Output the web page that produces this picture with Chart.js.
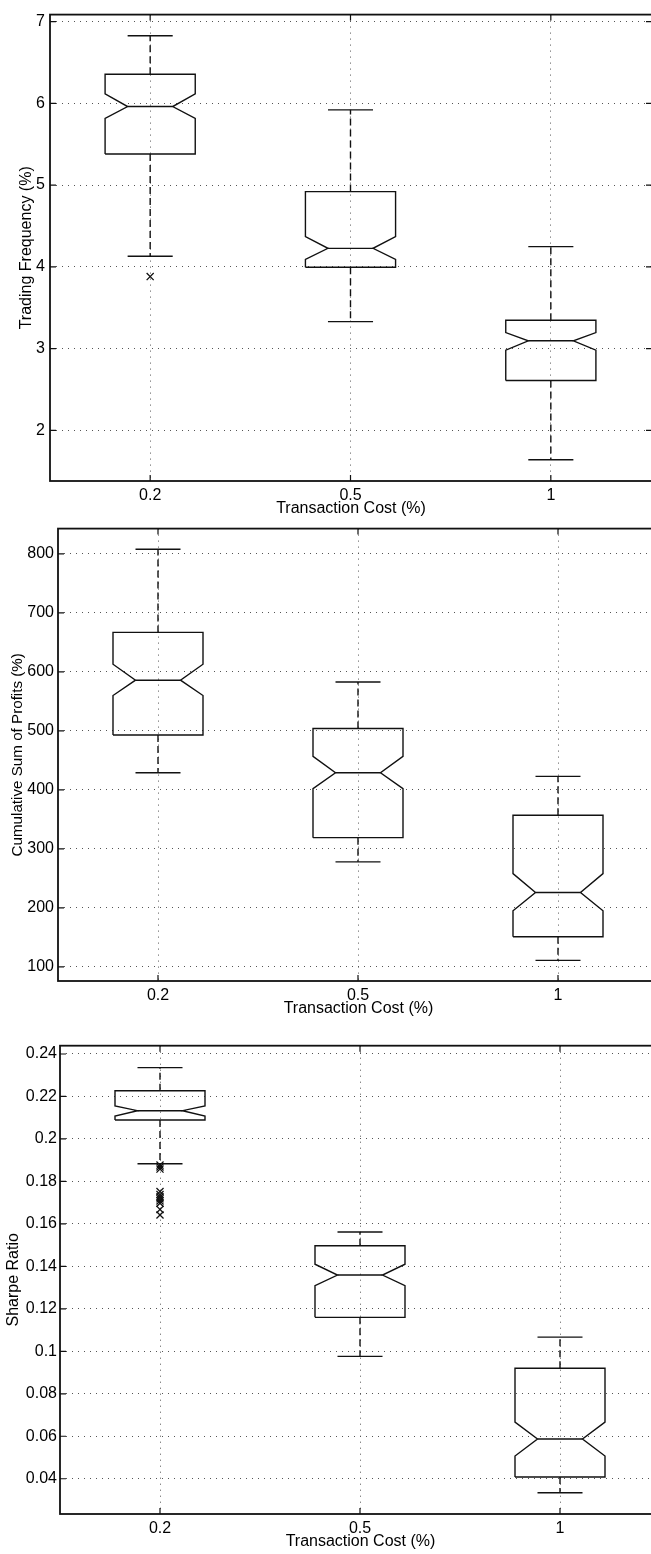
<!DOCTYPE html>
<html>
<head>
<meta charset="utf-8">
<title>Transaction cost boxplots</title>
<script src="https://cdn.jsdelivr.net/npm/chart.js@4.4.1/dist/chart.umd.min.js"></script>
<style>
    html, body { margin: 0; padding: 0; background: #fff; }
    body { width: 651px; height: 1554px; overflow: hidden; position: relative; }
    canvas { position: absolute; left: 0; }
</style>
</head>
<body>
<canvas id="freqChart"></canvas>
<canvas id="profitChart"></canvas>
<canvas id="sharpeChart"></canvas>
<script>
// Categories
const costLabels = ['0.2', '0.5', '1'];

// Trading frequency (%)
const freqWhiskerLow = [4.13, 3.33, 1.64];
const freqQ1 = [5.38, 3.995, 2.61];
const freqNotchLow = [5.815, 4.09, 2.98];
const freqMedian = [5.96, 4.226, 3.095];
const freqNotchHigh = [6.115, 4.37, 3.196];
const freqQ3 = [6.355, 4.92, 3.347];
const freqWhiskerHigh = [6.826, 5.92, 4.247];
const freqOutliers = [[3.88], [], []];
const freqTicks = [2, 3, 4, 5, 6, 7];

// Cumulative sum of profits (%)
const profitWhiskerLow = [429, 278, 111];
const profitQ1 = [493, 319, 151];
const profitNotchLow = [560, 402, 195];
const profitMedian = [586, 429, 226];
const profitNotchHigh = [613, 457, 258];
const profitQ3 = [667, 504, 357];
const profitWhiskerHigh = [808, 583, 423];
const profitOutliers = [[], [], []];
const profitTicks = [100, 200, 300, 400, 500, 600, 700, 800];

// Sharpe ratio
const sharpeWhiskerLow = [0.1883, 0.0976, 0.0334];
const sharpeQ1 = [0.2089, 0.116, 0.0408];
const sharpeNotchLow = [0.2108, 0.1309, 0.0507];
const sharpeMedian = [0.2133, 0.1359, 0.0587];
const sharpeNotchHigh = [0.2155, 0.141, 0.0667];
const sharpeQ3 = [0.2227, 0.1497, 0.092];
const sharpeWhiskerHigh = [0.2336, 0.1562, 0.1067];
const sharpeOutliers = [[0.1877, 0.1868, 0.1858, 0.1752, 0.1738, 0.1728, 0.1718, 0.1708, 0.1697, 0.1668, 0.1642], [], []];
const sharpeTicks = [0.04, 0.06, 0.08, 0.1, 0.12, 0.14, 0.16, 0.18, 0.2, 0.22, 0.24];

const BOX_HALF = 0.225;
const INK = '#111';
const CANVAS_W = 680;
const FONT_PX = 16;
const LINE_H = FONT_PX * 1.2;
const X_TITLE_GAP = 28; // plot bottom to middle of the x title

Chart.defaults.font.family = '"Liberation Sans", Arial, sans-serif';
Chart.defaults.font.size = FONT_PX;
Chart.defaults.color = '#000';

// frame round the plot area with inward tick marks (matlab style)
const framePlugin = {
    id: 'frame',
    afterDatasetsDraw(chart) {
        const { ctx, chartArea: a, scales } = chart;
        ctx.save();
        ctx.strokeStyle = INK;
        ctx.lineWidth = 1.2;
        ctx.beginPath();
        scales.y.ticks.forEach(t => {
            const py = scales.y.getPixelForValue(t.value);
            ctx.moveTo(a.left, py); ctx.lineTo(a.left + 6, py);
            ctx.moveTo(a.right, py); ctx.lineTo(a.right - 6, py);
        });
        scales.x.ticks.forEach(t => {
            const px = scales.x.getPixelForValue(t.value);
            ctx.moveTo(px, a.bottom); ctx.lineTo(px, a.bottom - 6);
            ctx.moveTo(px, a.top); ctx.lineTo(px, a.top + 6);
        });
        ctx.stroke();
        ctx.lineWidth = 1.8;
        ctx.strokeRect(a.left, a.top, a.right - a.left, a.bottom - a.top);
        ctx.restore();
    }
};

function lineSet(data, dash) {
    return {
        data,
        showLine: true,
        borderColor: INK,
        borderWidth: 1.4,
        borderDash: dash || [],
        pointRadius: 0,
        pointHoverRadius: 0,
        fill: false,
        tension: 0
    };
}

function boxDatasets(s) {
    const sets = [];
    const w = BOX_HALF, n = BOX_HALF / 2;
    s.median.forEach((med, i) => {
        const c = i + 1;
        sets.push(lineSet([
            { x: c - w, y: s.q1[i] }, { x: c - w, y: s.notchLow[i] }, { x: c - n, y: med },
            { x: c - w, y: s.notchHigh[i] }, { x: c - w, y: s.q3[i] },
            { x: c + w, y: s.q3[i] }, { x: c + w, y: s.notchHigh[i] }, { x: c + n, y: med },
            { x: c + w, y: s.notchLow[i] }, { x: c + w, y: s.q1[i] }, { x: c - w, y: s.q1[i] }
        ]));
        sets.push(lineSet([{ x: c - n, y: med }, { x: c + n, y: med }]));
        sets.push(lineSet([{ x: c, y: s.q3[i] }, { x: c, y: s.whiskerHigh[i] }], [7, 4]));
        sets.push(lineSet([{ x: c, y: s.q1[i] }, { x: c, y: s.whiskerLow[i] }], [7, 4]));
        sets.push(lineSet([{ x: c - n, y: s.whiskerHigh[i] }, { x: c + n, y: s.whiskerHigh[i] }]));
        sets.push(lineSet([{ x: c - n, y: s.whiskerLow[i] }, { x: c + n, y: s.whiskerLow[i] }]));
        if (s.outliers[i].length) {
            sets.push({
                data: s.outliers[i].map(v => ({ x: c, y: v })),
                showLine: false,
                pointStyle: 'crossRot',
                pointRadius: 5,
                pointHoverRadius: 0,
                borderColor: INK,
                borderWidth: 1.3
            });
        }
    });
    return sets;
}

function makePanel(id, p, s) {
    const canvas = document.getElementById(id);
    canvas.width = CANVAS_W;
    canvas.height = p.bottom + 40;
    canvas.style.top = p.canvasTop + 'px';
    // one category step is ~200 px in every panel
    const unitPx = (p.right - p.left) / 3.005;
    const xAxisH = LINE_H / 2 + X_TITLE_GAP;
    const titleSize = s.titleSize || FONT_PX;

    return new Chart(canvas, {
        type: 'scatter',
        data: { datasets: boxDatasets(s) },
        options: {
            responsive: false,
            animation: false,
            events: [],
            layout: { padding: { top: p.top, left: 0, right: CANVAS_W - p.right, bottom: 40 - xAxisH } },
            plugins: { legend: { display: false }, tooltip: { enabled: false } },
            scales: {
                x: {
                    type: 'linear',
                    min: 0.5,
                    max: 0.5 + (p.right - p.left) / unitPx,
                    afterBuildTicks: sc => { sc.ticks = costLabels.map((_, i) => ({ value: i + 1 })); },
                    afterFit: sc => { sc.height = xAxisH; },
                    ticks: { padding: 5, callback: (v, i) => costLabels[i] },
                    grid: { color: '#555', lineWidth: 1, drawTicks: false },
                    border: { display: false, dash: [1, 5] },
                    title: { display: true, text: 'Transaction Cost (%)', padding: 0 }
                },
                y: {
                    type: 'linear',
                    min: p.yMin,
                    max: p.yMax,
                    afterBuildTicks: sc => { sc.ticks = s.ticks.map(v => ({ value: v })); },
                    afterFit: sc => { sc.width = p.left; },
                    ticks: { padding: p.tickPad, callback: v => String(Number(v.toFixed(2))) },
                    grid: { color: '#555', lineWidth: 1, drawTicks: false },
                    border: { display: false, dash: [1, 5] },
                    title: {
                        display: true,
                        text: s.title,
                        font: { size: titleSize },
                        padding: { top: p.titleX - titleSize * 0.6, bottom: 0 }
                    }
                }
            }
        },
        plugins: [framePlugin]
    });
}

makePanel('freqChart',
    { canvasTop: 0, top: 12, bottom: 481, left: 50, right: 652, yMin: 1.38, yMax: 7.085, tickPad: 5, titleX: 27 },
    { title: 'Trading Frequency (%)', ticks: freqTicks, q1: freqQ1, median: freqMedian, q3: freqQ3,
      notchLow: freqNotchLow, notchHigh: freqNotchHigh, whiskerLow: freqWhiskerLow, whiskerHigh: freqWhiskerHigh, outliers: freqOutliers });

makePanel('profitChart',
    { canvasTop: 515, top: 12.7, bottom: 466, left: 58, right: 659, yMin: 76, yMax: 843, tickPad: 4, titleX: 17.5 },
    { title: 'Cumulative Sum of Profits (%)', titleSize: 15.2, ticks: profitTicks, q1: profitQ1, median: profitMedian, q3: profitQ3,
      notchLow: profitNotchLow, notchHigh: profitNotchHigh, whiskerLow: profitWhiskerLow, whiskerHigh: profitWhiskerHigh, outliers: profitOutliers });

makePanel('sharpeChart',
    { canvasTop: 1030, top: 15.7, bottom: 484, left: 60, right: 661, yMin: 0.0234, yMax: 0.2439, tickPad: 3, titleX: 13.3 },
    { title: 'Sharpe Ratio', ticks: sharpeTicks, q1: sharpeQ1, median: sharpeMedian, q3: sharpeQ3,
      notchLow: sharpeNotchLow, notchHigh: sharpeNotchHigh, whiskerLow: sharpeWhiskerLow, whiskerHigh: sharpeWhiskerHigh, outliers: sharpeOutliers });
</script>
</body>
</html>
